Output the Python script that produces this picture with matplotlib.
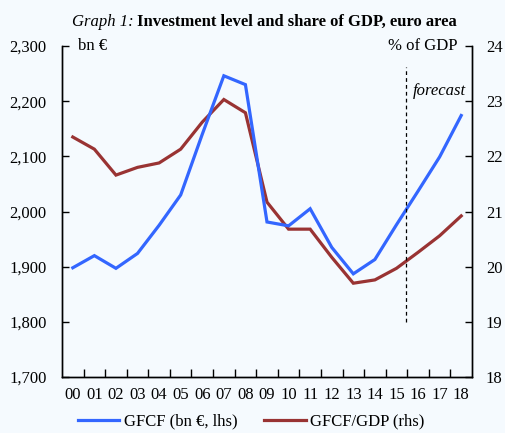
import numpy as np
import matplotlib
matplotlib.use('Agg')
from matplotlib import pyplot as plt
from matplotlib.ticker import FixedLocator, FuncFormatter

plt.rcParams['font.family'] = ['Liberation Serif', 'DejaVu Serif']

# data
years = ['00', '01', '02', '03', '04', '05', '06', '07', '08', '09',
         '10', '11', '12', '13', '14', '15', '16', '17', '18']
gfcf = [1898, 1920, 1897, 1924, 1975, 2030, 2140, 2246, 2230, 1981,
        1974, 2005, 1935, 1887, 1913, 1976, 2037, 2099, 2174]
gfcf_gdp = [22.35, 22.13, 21.66, 21.80, 21.88, 22.13, 22.62, 23.03, 22.79, 21.17,
            20.68, 20.68, 20.17, 19.70, 19.76, 19.97, 20.26, 20.56, 20.92]
forecast_at = 15.45

bg = '#F5FAFE'
blue = '#3366FF'
red = '#993333'
fs = 12

fig = plt.figure(figsize=(5.05, 4.33), dpi=100, facecolor=bg)
ax1 = fig.add_axes([62/505, 56/433, 410/505, 331/433], facecolor=bg)
ax2 = ax1.twinx()

x = np.arange(len(years))
l1, = ax1.plot(x, gfcf, color=blue, lw=2.3, label='GFCF (bn €, lhs)', solid_joinstyle='miter')
l2, = ax2.plot(x, gfcf_gdp, color=red, lw=2.3, label='GFCF/GDP (rhs)', solid_joinstyle='miter')
ax1.set_zorder(ax2.get_zorder() + 1)
ax1.patch.set_visible(False)
ax2.patch.set_facecolor(bg)

ax1.plot([forecast_at, forecast_at], [1800, 2262], color='black', lw=0.9, ls=(0, (3, 2.5)))

ax1.set_xlim(-0.5, len(years) - 0.5)
ax1.set_ylim(1700, 2300)
ax2.set_ylim(18, 24)
ax1.set_yticks(np.arange(1700, 2301, 100))
ax2.set_yticks(np.arange(18, 25, 1))
ax1.yaxis.set_major_formatter(FuncFormatter(lambda v, p: f'{int(v):,}'))

ax1.set_xticks(x)
ax1.set_xticklabels(years)
ax1.xaxis.set_minor_locator(FixedLocator(np.arange(0.5, len(years) - 1, 1)))
ax1.tick_params(axis='x', which='major', length=0, pad=7, labelsize=fs)
ax1.tick_params(axis='x', which='minor', direction='in', length=6, width=1)
ax1.tick_params(axis='y', direction='in', length=5, width=1, pad=11, labelsize=fs)
ax2.tick_params(axis='y', direction='in', length=5, width=1, pad=10, labelsize=fs)

for a in (ax1, ax2):
    a.spines['top'].set_visible(False)
    for s in ('left', 'right', 'bottom'):
        a.spines[s].set_linewidth(1)

ax1.text(16/410, 1.0, 'bn €', transform=ax1.transAxes, ha='left', va='center', fontsize=fs)
ax1.text(396/410, 1.0, '% of GDP', transform=ax1.transAxes, ha='right', va='center', fontsize=fs)
ax1.text(351/410, 0.865, 'forecast', transform=ax1.transAxes, ha='left', va='center',
         fontsize=fs, style='italic')

# title
fig.text(134/505, 1 - 26/433, 'Graph 1:', ha='right', va='baseline', fontsize=fs, style='italic')
fig.text(137/505, 1 - 26/433, 'Investment level and share of GDP, euro area',
         ha='left', va='baseline', fontsize=fs, fontweight='bold')

fig.legend([l1, l2], [l1.get_label(), l2.get_label()], loc='lower center',
           bbox_to_anchor=(0.497, -0.027), ncol=2, frameon=False, fontsize=fs,
           handlelength=2.5, handletextpad=0.25, columnspacing=1.6)

fig.savefig('out.png', dpi=100, facecolor=bg)
